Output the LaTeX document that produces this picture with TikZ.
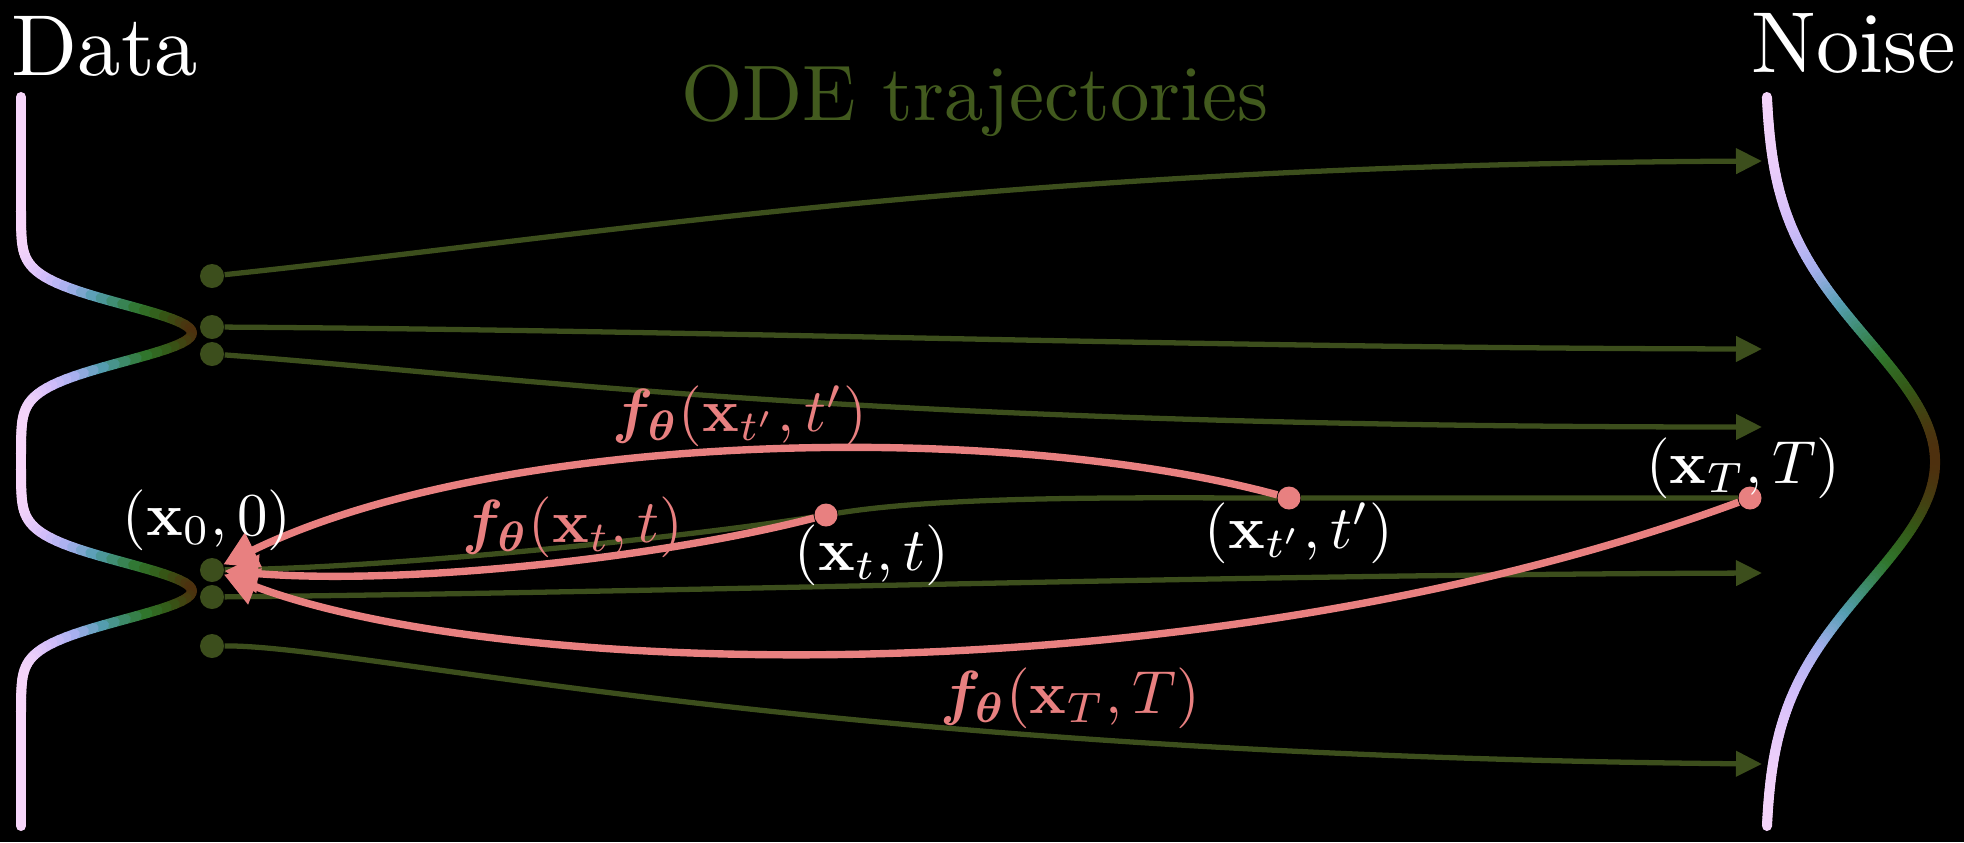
\documentclass[tikz,border=0pt]{standalone}
\usepackage{amsmath, amsfonts, amssymb}
\usepackage{bm}
\usetikzlibrary{arrows.meta}

\definecolor{trajgreen}{RGB}{60,78,28}
\definecolor{odegreen}{RGB}{66,90,30}
\definecolor{fpink}{RGB}{232,128,128}
\definecolor{dca}{RGB}{247,214,250}
\definecolor{dcb}{RGB}{212,190,250}
\definecolor{dcc}{RGB}{165,175,238}
\definecolor{dcd}{RGB}{85,158,178}
\definecolor{dce}{RGB}{62,140,110}
\definecolor{dcf}{RGB}{48,118,45}
\definecolor{dcg}{RGB}{52,88,22}
\definecolor{dch}{RGB}{78,48,14}

\newcommand\setdenscol[1]{%
  \pgfmathsetmacro\dv{min(max(#1,0),1)}%
  \ifdim\dv pt<0.15pt
    \pgfmathsetmacro\dm{\dv/0.15*100}\colorlet{denscol}{dcb!\dm!dca}%
  \else\ifdim\dv pt<0.3pt
    \pgfmathsetmacro\dm{(\dv-0.15)/0.15*100}\colorlet{denscol}{dcc!\dm!dcb}%
  \else\ifdim\dv pt<0.45pt
    \pgfmathsetmacro\dm{(\dv-0.3)/0.15*100}\colorlet{denscol}{dcd!\dm!dcc}%
  \else\ifdim\dv pt<0.57pt
    \pgfmathsetmacro\dm{(\dv-0.45)/0.12*100}\colorlet{denscol}{dce!\dm!dcd}%
  \else\ifdim\dv pt<0.7pt
    \pgfmathsetmacro\dm{(\dv-0.57)/0.13*100}\colorlet{denscol}{dcf!\dm!dce}%
  \else\ifdim\dv pt<0.85pt
    \pgfmathsetmacro\dm{(\dv-0.7)/0.15*100}\colorlet{denscol}{dcg!\dm!dcf}%
  \else
    \pgfmathsetmacro\dm{min((\dv-0.85)/0.15*100,100)}\colorlet{denscol}{dch!\dm!dcg}%
  \fi\fi\fi\fi\fi\fi}

\tikzset{
  trajline/.style={draw=trajgreen, line width=1.5pt},
  traj/.style={trajline, -{Triangle[length=7.4pt,width=7pt]}},
  fmap/.style={draw=fpink, line width=2.1pt, -{Triangle[length=9.5pt,width=10.5pt]}},
  gdot/.style={circle, fill=trajgreen, inner sep=0pt, minimum size=0.24cm},
  pdot/.style={circle, fill=fpink, inner sep=0pt, minimum size=0.23cm},
  lbl/.style={text=white, transform shape, scale=1.73},
  flbl/.style={text=fpink, transform shape, scale=1.73},
  headline/.style={text=white, transform shape, scale=2.46, anchor=base},
  dens/.style={line width=2.85pt, line cap=round},
}

\begin{document}
\begin{tikzpicture}[x=0.01cm, y=-0.01cm]
\useasboundingbox (0,0) rectangle (1964,842);
\fill[black] (0,0) rectangle (1964,842);

\foreach \yy in {97,100,...,824} {
  \pgfmathsetmacro\va{exp(-min(((\yy-333)/40)^2,20))+exp(-min(((\yy-591)/40)^2,20))}
  \pgfmathsetmacro\vb{exp(-min(((\yy+3-333)/40)^2,20))+exp(-min(((\yy+3-591)/40)^2,20))}
  \setdenscol{(\va+\vb)/2}
  \draw[dens, denscol] ({21+171*\va},\yy) -- ({21+171*\vb},\yy+3);
}
\foreach \yy in {97,100,...,824} {
  \pgfmathsetmacro\va{exp(-min(((\yy-462)/172.5)^2,20))}
  \pgfmathsetmacro\vb{exp(-min(((\yy+3-462)/172.5)^2,20))}
  \setdenscol{(\va+\vb)/2}
  \draw[dens, denscol] ({1765+170*\va},\yy) -- ({1765+170*\vb},\yy+3);
}

\path (105,75) node[headline] (data) {Data};
\path (1854,72) node[headline] (noise) {Noise};
\path (975,120) node[headline, text=odegreen, scale=2.24/2.46] (ode) {ODE trajectories};

\path (212,276) node[gdot] (d1) {};
\path (212,327) node[gdot] (d2) {};
\path (212,354) node[gdot] (d3) {};
\path (212,570) node[gdot] (x0) {};
\path (212,597) node[gdot] (d5) {};
\path (212,646) node[gdot] (d6) {};

\path (826,515) node[pdot] (xt) {};
\path (1289,498) node[pdot] (xtp) {};
\path (1750,498) node[pdot] (xT) {};

\coordinate (e1) at (1762,161);
\coordinate (e2) at (1762,349);
\coordinate (e3) at (1762,427);
\coordinate (e5) at (1762,573);
\coordinate (e6) at (1762,764);

\draw[traj] (d1) .. controls (600,235) and (1000,165) .. (e1);
\draw[traj] (d2) .. controls (700,330) and (1200,348) .. (e2);
\draw[traj] (d3) .. controls (500,375) and (850,427) .. (e3);
\draw[trajline] (x0) .. controls (400,568) and (700,535) .. (xt) .. controls (950,495) and (1150,498) .. (xtp) -- (xT);
\draw[traj] (d5) .. controls (700,592) and (1200,575) .. (e5);
\draw[traj] (d6) .. controls (360,645) and (800,755) .. (e6);

\draw[fmap] (xt) .. controls (650,560) and (400,585) .. (x0);
\draw[fmap] (xtp) .. controls (1000,420) and (500,430) .. (x0);
\draw[fmap] (xT) .. controls (1200,700) and (500,680) .. (x0);

\path (207,520) node[lbl] (lx0) {$(\mathbf{x}_0, 0)$};
\path (872,555) node[lbl] (lxt) {$(\mathbf{x}_t, t)$};
\path (1299,533) node[lbl] (lxtp) {$(\mathbf{x}_{t'}, t')$};
\path (1743,468) node[lbl] (lxT) {$(\mathbf{x}_T, T)$};
\path (573,527) node[flbl] (fxt) {$\bm{f}_{\bm{\theta}}(\mathbf{x}_t, t)$};
\path (740,416) node[flbl] (fxtp) {$\bm{f}_{\bm{\theta}}(\mathbf{x}_{t'}, t')$};
\path (1070,698) node[flbl] (fxT) {$\bm{f}_{\bm{\theta}}(\mathbf{x}_T, T)$};
\end{tikzpicture}
\end{document}
